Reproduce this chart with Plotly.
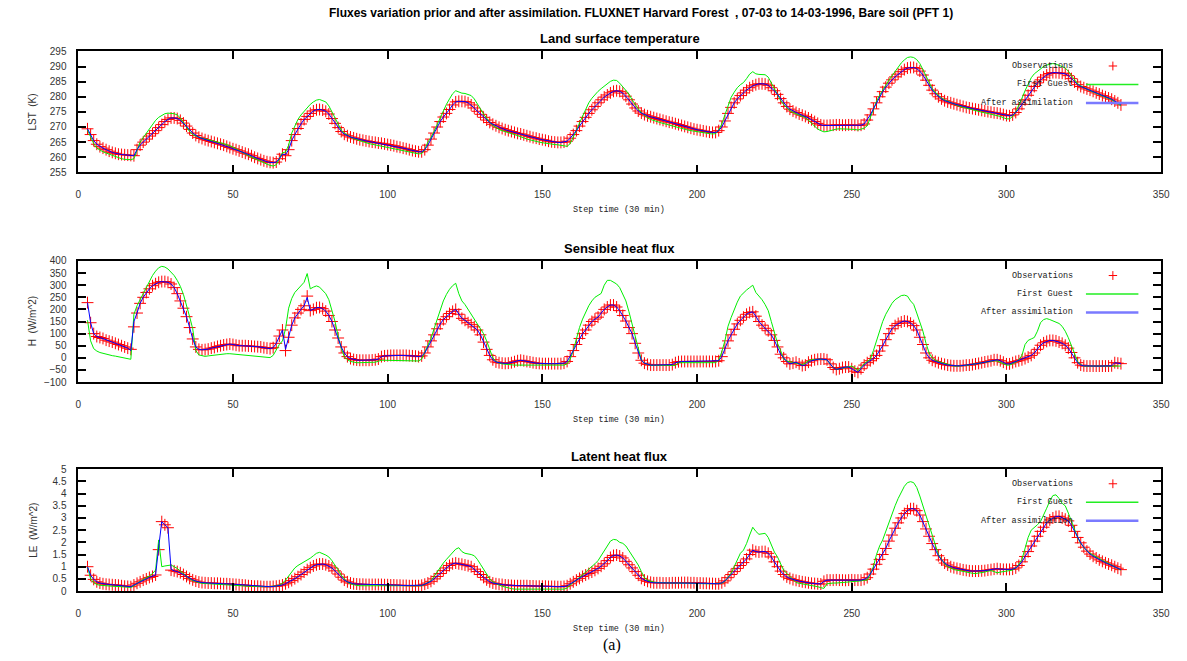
import plotly.graph_objects as go

# ---------------- data (step index starts at 3) ----------------
first_step = 3

lst_obs = [
    269.4, 267.5, 265.5, 264.3, 263.5, 263.0, 262.5, 262.0, 261.6, 261.3,
    261.0, 260.9, 260.8, 260.7, 260.6, 260.5, 262.5, 264.0, 265.0, 266.0,
    267.0, 267.8, 268.8, 269.8, 270.8, 271.8, 272.5, 273.0, 273.0, 272.8,
    272.2, 271.3, 270.3, 269.2, 268.0, 267.2, 266.6, 266.2, 265.8, 265.5,
    265.2, 264.9, 264.6, 264.3, 264.0, 263.6, 263.2, 262.8, 262.5, 262.1,
    261.7, 261.3, 261.0, 260.5, 260.0, 259.6, 259.2, 258.8, 258.5, 258.3,
    258.2, 258.4, 259.5, 261.0, 260.5, 262.5, 265.5, 267.5, 269.5, 271.0,
    272.5, 273.5, 274.5, 275.3, 275.7, 275.8, 275.6, 275.2, 274.3, 272.8,
    271.2, 269.8, 268.5, 267.6, 267.1, 266.7, 266.4, 266.1, 265.8, 265.6,
    265.4, 265.2, 265.0, 264.9, 264.7, 264.6, 264.4, 264.2, 264.0, 263.8,
    263.5, 263.3, 263.0, 262.8, 262.5, 262.2, 262.0, 261.8, 261.8, 262.5,
    264.0, 266.0, 268.0, 270.0, 271.8, 273.3, 274.5, 275.8, 277.3, 278.3,
    278.5, 278.5, 278.4, 278.0, 277.3, 276.3, 275.2, 274.2, 273.2, 272.3,
    271.5, 270.9, 270.4, 269.9, 269.5, 269.1, 268.8, 268.5, 268.2, 267.9,
    267.7, 267.4, 267.1, 266.8, 266.5, 266.3, 266.0, 265.8, 265.6, 265.3,
    265.1, 265.0, 264.9, 264.9, 265.0, 265.3, 266.3, 267.5, 268.8, 270.3,
    271.8, 273.2, 274.5, 275.7, 276.8, 278.0, 279.0, 279.9, 280.6, 281.3,
    281.8, 282.0, 281.8, 281.2, 280.2, 279.0, 277.6, 276.3, 275.3, 274.6,
    274.1, 273.7, 273.4, 273.1, 272.8, 272.5, 272.2, 271.9, 271.6, 271.4,
    271.1, 270.8, 270.5, 270.2, 269.9, 269.6, 269.3, 269.1, 268.9, 268.7,
    268.5, 268.3, 268.2, 268.2, 268.8, 270.0, 272.0, 274.5, 276.5, 278.0,
    279.3, 280.4, 281.3, 282.2, 283.0, 283.6, 284.0, 284.3, 284.3, 284.2,
    283.8, 283.0, 282.0, 280.8, 279.4, 278.0, 276.8, 275.9, 275.3, 274.8,
    274.3, 273.9, 273.5, 273.0, 272.4, 271.8, 271.2, 270.7, 270.5, 270.5,
    270.6, 270.6, 270.7, 270.7, 270.6, 270.6, 270.7, 270.7, 270.6, 270.5,
    270.6, 271.0, 272.3, 274.0, 276.0, 278.0, 280.0, 281.7, 283.2, 284.5,
    285.6, 286.6, 287.5, 288.3, 289.0, 289.5, 289.7, 289.7, 289.3, 288.5,
    287.2, 285.5, 283.8, 282.2, 281.0, 280.0, 279.3, 278.7, 278.3, 278.0,
    277.7, 277.4, 277.1, 276.8, 276.5, 276.3, 276.1, 275.9, 275.7, 275.5,
    275.3, 275.1, 274.9, 274.7, 274.6, 274.4, 274.1, 273.8, 273.7, 274.0,
    274.8, 276.0, 277.5, 279.0, 280.5, 282.0, 283.4, 284.6, 285.6, 286.5,
    287.2, 287.7, 288.0, 288.0, 287.9, 287.8, 287.6, 287.0, 286.0, 284.9,
    284.0, 283.4, 283.0, 282.6, 282.2, 281.8, 281.3, 280.9, 280.4, 280.0,
    279.6, 279.2, 278.6, 278.0, 277.3,
]

lst_first_guess = [
    269.0, 266.5, 264.5, 263.0, 262.3, 261.8, 261.4, 261.0, 260.6, 260.2,
    259.8, 259.5, 259.3, 259.2, 259.2, 259.5, 262.0, 265.0, 266.5, 268.0,
    269.5, 271.0, 272.2, 273.2, 273.9, 274.4, 274.6, 274.6, 274.4, 274.0,
    273.0, 271.5, 270.0, 268.5, 267.5, 267.0, 266.6, 266.3, 266.0, 265.7,
    265.5, 265.2, 265.0, 264.8, 264.5, 264.2, 263.8, 263.3, 262.8, 262.3,
    261.7, 261.1, 260.5, 260.0, 259.5, 259.0, 258.5, 258.1, 257.7, 257.3,
    257.1, 257.5, 259.5, 261.5, 261.7, 264.0, 268.0, 270.5, 272.5, 274.0,
    275.3, 276.5, 277.5, 278.3, 278.9, 279.1, 278.8, 278.3, 277.0, 275.0,
    272.5, 270.5, 269.0, 268.0, 267.3, 266.7, 266.2, 265.8, 265.4, 265.1,
    264.8, 264.5, 264.3, 264.1, 263.9, 263.7, 263.5, 263.3, 263.1, 262.9,
    262.6, 262.4, 262.2, 262.0, 261.8, 261.5, 261.3, 261.1, 261.2, 262.5,
    265.0, 266.5, 268.5, 270.8, 273.0, 275.5, 277.5, 279.3, 281.0, 282.0,
    281.5, 281.2, 281.1, 280.8, 280.4, 279.3, 277.8, 276.0, 274.3, 272.8,
    271.5, 270.5, 269.8, 269.2, 268.8, 268.4, 268.1, 267.8, 267.5, 267.2,
    266.8, 266.4, 266.0, 265.7, 265.5, 265.2, 265.0, 264.8, 264.6, 264.4,
    264.3, 264.2, 264.1, 264.0, 263.8, 263.6, 264.5, 266.5, 268.8, 271.3,
    273.7, 276.0, 278.0, 279.5, 280.8, 281.8, 282.7, 283.6, 284.4, 285.1,
    285.5, 285.4, 284.5, 283.2, 282.0, 280.9, 279.0, 277.3, 276.0, 274.8,
    273.8, 273.0, 272.5, 272.1, 271.8, 271.5, 271.2, 270.9, 270.6, 270.4,
    270.1, 269.8, 269.5, 269.3, 269.0, 268.8, 268.6, 268.4, 268.2, 268.0,
    267.9, 267.8, 267.7, 267.8, 269.0, 271.0, 274.0, 277.0, 279.8, 281.5,
    283.0, 284.0, 284.7, 286.0, 287.5, 288.3, 287.6, 287.4, 287.3, 287.3,
    286.5, 284.5, 282.5, 280.5, 278.8, 277.4, 276.3, 275.4, 274.8, 274.3,
    273.8, 273.5, 273.2, 272.2, 271.2, 270.2, 269.3, 268.8, 268.4, 268.5,
    268.8, 269.1, 269.3, 269.4, 269.4, 269.3, 269.3, 269.3, 269.2, 269.0,
    269.2, 269.6, 270.4, 273.0, 276.0, 278.5, 280.5, 282.0, 283.8, 285.5,
    287.0, 288.6, 290.0, 291.2, 292.2, 293.0, 293.2, 293.0, 292.3, 291.0,
    289.0, 286.8, 284.5, 282.7, 281.5, 280.4, 279.6, 279.0, 278.5, 278.1,
    277.7, 277.2, 276.8, 276.5, 276.2, 275.9, 275.6, 275.3, 275.1, 274.9,
    274.7, 274.5, 274.3, 274.0, 273.8, 273.5, 273.1, 272.7, 272.7, 273.5,
    275.0, 277.0, 279.5, 282.0, 284.3, 286.3, 287.6, 288.5, 289.3, 290.0,
    290.5, 290.8, 291.0, 290.8, 290.5, 290.0, 289.5, 288.5, 287.0, 285.5,
    284.3, 283.6, 283.0, 282.5, 282.0, 281.6, 281.2, 280.8, 280.4, 280.0,
    279.5, 279.0, 278.3, 277.6, 277.0,
]

lst_after = [
    269.4, 267.5, 265.5, 264.3, 263.5, 263.0, 262.5, 262.0, 261.6, 261.3,
    261.0, 260.9, 260.8, 260.7, 260.6, 260.5, 262.5, 264.0, 265.0, 266.0,
    267.0, 267.8, 268.8, 269.8, 270.8, 271.8, 272.5, 273.0, 273.0, 272.8,
    272.2, 271.3, 270.3, 269.2, 268.0, 267.2, 266.6, 266.2, 265.8, 265.5,
    265.2, 264.9, 264.6, 264.3, 264.0, 263.6, 263.2, 262.8, 262.5, 262.1,
    261.7, 261.3, 261.0, 260.5, 260.0, 259.6, 259.2, 258.8, 258.5, 258.3,
    258.2, 258.4, 259.5, 261.0, 260.8, 262.5, 265.5, 267.5, 269.5, 271.0,
    272.5, 273.5, 274.5, 275.3, 275.7, 275.8, 275.6, 275.2, 274.3, 272.8,
    271.2, 269.8, 268.5, 267.6, 267.1, 266.7, 266.4, 266.1, 265.8, 265.6,
    265.4, 265.2, 265.0, 264.9, 264.7, 264.6, 264.4, 264.2, 264.0, 263.8,
    263.5, 263.3, 263.0, 262.8, 262.5, 262.2, 262.0, 261.8, 261.8, 262.5,
    264.0, 266.0, 268.0, 270.0, 271.8, 273.3, 274.5, 275.8, 277.3, 278.3,
    278.5, 278.5, 278.4, 278.0, 277.3, 276.3, 275.2, 274.2, 273.2, 272.3,
    271.5, 270.9, 270.4, 269.9, 269.5, 269.1, 268.8, 268.5, 268.2, 267.9,
    267.7, 267.4, 267.1, 266.8, 266.5, 266.3, 266.0, 265.8, 265.6, 265.3,
    265.1, 265.0, 264.9, 264.9, 265.0, 265.3, 266.3, 267.5, 268.8, 270.3,
    271.8, 273.2, 274.5, 275.7, 276.8, 278.0, 279.0, 279.9, 280.6, 281.3,
    281.8, 282.0, 281.8, 281.2, 280.2, 279.0, 277.6, 276.3, 275.3, 274.6,
    274.1, 273.7, 273.4, 273.1, 272.8, 272.5, 272.2, 271.9, 271.6, 271.4,
    271.1, 270.8, 270.5, 270.2, 269.9, 269.6, 269.3, 269.1, 268.9, 268.7,
    268.5, 268.3, 268.2, 268.2, 268.8, 270.0, 272.0, 274.5, 276.5, 278.0,
    279.3, 280.4, 281.3, 282.2, 283.0, 283.6, 284.0, 284.3, 284.3, 284.2,
    283.8, 283.0, 282.0, 280.8, 279.4, 278.0, 276.8, 275.9, 275.3, 274.8,
    274.3, 273.9, 273.5, 273.0, 272.4, 271.8, 271.2, 270.7, 270.5, 270.5,
    270.6, 270.6, 270.7, 270.7, 270.6, 270.6, 270.7, 270.7, 270.6, 270.5,
    270.6, 271.0, 272.3, 274.0, 276.0, 278.0, 280.0, 281.7, 283.2, 284.5,
    285.6, 286.6, 287.5, 288.3, 289.0, 289.5, 289.7, 289.7, 289.3, 288.5,
    287.2, 285.5, 283.8, 282.2, 281.0, 280.0, 279.3, 278.7, 278.3, 278.0,
    277.7, 277.4, 277.1, 276.8, 276.5, 276.3, 276.1, 275.9, 275.7, 275.5,
    275.3, 275.1, 274.9, 274.7, 274.6, 274.4, 274.1, 273.8, 273.7, 274.0,
    274.8, 276.0, 277.5, 279.0, 280.5, 282.0, 283.4, 284.6, 285.6, 286.5,
    287.2, 287.7, 288.0, 288.0, 287.9, 287.8, 287.6, 287.0, 286.0, 284.9,
    284.0, 283.4, 283.0, 282.6, 282.2, 281.8, 281.3, 280.9, 280.4, 280.0,
    279.6, 279.2, 278.6, 278.0, 277.3,
]

h_obs = [
    228, 145, 100, 88, 84, 80, 73, 69, 65, 60,
    55, 50, 45, 40, 35, 128, 185, 225, 250, 270,
    285, 298, 306, 312, 315, 315, 312, 305, 290, 265,
    235, 205, 170, 125, 78, 45, 35, 33, 34, 36,
    40, 43, 47, 50, 53, 55, 57, 55, 52, 50,
    50, 50, 49, 48, 47, 46, 45, 42, 40, 38,
    42, 60, 90, 115, 30, 85, 135, 165, 185, 200,
    215, 255, 195, 200, 207, 208, 203, 193, 175, 150,
    115, 82, 45, 20, 5, -3, -7, -9, -10, -10,
    -10, -10, -9, -8, -5, 5, 8, 9, 10, 10,
    10, 10, 10, 10, 9, 8, 7, 5, 8, 20,
    45, 70, 95, 120, 140, 158, 170, 183, 192, 200,
    180, 163, 155, 145, 137, 128, 115, 95, 65, 35,
    10, -8, -17, -20, -22, -23, -22, -20, -16, -12,
    -10, -12, -15, -17, -20, -22, -23, -24, -24, -24,
    -24, -24, -24, -24, -22, -15, 5, 30, 55, 80,
    100, 115, 135, 150, 160, 168, 185, 200, 210, 218,
    218, 210, 195, 175, 152, 125, 100, 60, 20, -10,
    -22, -27, -30, -30, -30, -30, -30, -30, -30, -28,
    -20, -16, -15, -15, -15, -15, -15, -15, -15, -15,
    -15, -15, -15, -15, -12, 5, 40, 70, 95, 118,
    140, 155, 168, 180, 187, 190, 172, 150, 135, 122,
    112, 95, 72, 45, 15, 0, -15, -25, -22, -18,
    -25, -32, -30, -18, -12, -8, -6, -5, -5, -8,
    -25, -40, -48, -45, -40, -38, -38, -45, -55, -60,
    -45, -30, -20, -12, -3, 10, 28, 50, 75, 100,
    120, 133, 142, 148, 152, 150, 143, 133, 115, 85,
    55, 20, 0, -10, -15, -20, -24, -27, -30, -32,
    -33, -33, -33, -32, -30, -30, -28, -25, -23, -20,
    -17, -15, -12, -8, -8, -12, -18, -25, -25, -20,
    -15, -12, -8, -3, 3, 10, 20, 35, 52, 62,
    68, 72, 72, 70, 65, 60, 52, 40, 22, 0,
    -20, -30, -33, -34, -34, -34, -34, -34, -34, -34,
    -34, -33, -20, -22, -24,
]

h_first_guess = [
    155, 70, 38, 28, 22, 18, 15, 12, 9, 7,
    5, 3, 1, -2, -6, 180, 215, 240, 265, 290,
    315, 340, 358, 372, 378, 375, 367, 355, 340, 320,
    295, 262, 220, 170, 120, 30, 12, 8, 6, 8,
    10, 12, 14, 15, 16, 17, 17, 16, 13, 11,
    10, 9, 8, 8, 7, 6, 5, 4, 2, 1,
    10, 35, 55, 70, 120, 205, 245, 270, 285, 300,
    312, 348, 285, 292, 297, 292, 280, 265, 240, 195,
    150, 90, 40, 5, -8, -15, -18, -20, -20, -20,
    -20, -20, -20, -18, -14, -10, -10, -10, -10, -10,
    -10, -10, -10, -10, -10, -10, -11, -13, -5, 25,
    55, 80, 120, 160, 200, 235, 262, 283, 298, 308,
    265, 235, 220, 200, 180, 165, 145, 120, 100, 70,
    35, 0, -15, -22, -25, -27, -29, -30, -30, -30,
    -30, -30, -30, -30, -30, -30, -30, -30, -30, -30,
    -30, -30, -30, -30, -30, -25, -5, 30, 80, 125,
    160, 190, 215, 235, 250, 258, 266, 300, 320, 320,
    312, 305, 290, 265, 235, 190, 140, 90, 35, -10,
    -22, -28, -31, -31, -31, -31, -31, -31, -31, -31,
    -31, -20, -20, -20, -20, -20, -20, -20, -20, -20,
    -20, -20, -20, -20, -10, 25, 70, 130, 166, 200,
    230, 255, 269, 280, 290, 300, 270, 255, 240, 220,
    195, 150, 100, 60, 30, -5, -13, -16, -18, -20,
    -25, -28, -22, -12, -8, -6, -6, -6, -6, -8,
    -25, -40, -48, -45, -40, -37, -35, -34, -42, -52,
    -40, -25, -15, -6, 30, 69, 115, 150, 180, 205,
    225, 240, 250, 257, 259, 255, 235, 221, 185, 150,
    110, 60, 20, 0, -10, -16, -20, -24, -28, -32,
    -34, -34, -34, -33, -31, -29, -27, -25, -23, -20,
    -17, -15, -13, -12, -13, -18, -25, -30, -30, -25,
    -18, -8, 10, 55, 72, 78, 84, 110, 145, 158,
    162, 158, 152, 148, 142, 130, 110, 83, 50, 15,
    -15, -28, -34, -34, -34, -34, -34, -34, -34, -34,
    -34, -34, -34, -34, -34,
]

h_after = [
    228, 145, 100, 88, 84, 80, 73, 69, 65, 60,
    55, 50, 45, 40, 30, 150, 185, 225, 250, 270,
    285, 298, 306, 312, 315, 315, 312, 305, 290, 265,
    235, 205, 170, 125, 78, 45, 35, 33, 34, 36,
    40, 43, 47, 50, 53, 55, 57, 55, 52, 50,
    50, 50, 49, 48, 47, 46, 45, 42, 40, 38,
    42, 60, 90, 115, 35, 85, 135, 165, 185, 200,
    215, 250, 195, 200, 207, 208, 203, 193, 175, 150,
    115, 82, 45, 20, 5, -3, -7, -9, -10, -10,
    -10, -10, -9, -8, -5, 5, 8, 9, 10, 10,
    10, 10, 10, 10, 9, 8, 7, 5, 8, 20,
    45, 70, 95, 120, 140, 158, 170, 183, 192, 200,
    180, 163, 155, 145, 137, 128, 115, 95, 65, 35,
    10, -8, -17, -20, -22, -23, -22, -20, -16, -12,
    -10, -12, -15, -17, -20, -22, -23, -24, -24, -24,
    -24, -24, -24, -24, -22, -15, 5, 30, 55, 80,
    100, 115, 135, 150, 160, 168, 185, 200, 210, 218,
    218, 210, 195, 175, 152, 125, 100, 60, 20, -10,
    -22, -27, -30, -30, -30, -30, -30, -30, -30, -28,
    -20, -16, -15, -15, -15, -15, -15, -15, -15, -15,
    -15, -15, -15, -15, -12, 5, 40, 70, 95, 118,
    140, 155, 168, 180, 187, 190, 172, 150, 135, 122,
    112, 95, 72, 45, 15, 0, -15, -25, -22, -18,
    -25, -32, -30, -18, -12, -8, -6, -5, -5, -8,
    -25, -40, -48, -45, -40, -38, -38, -45, -55, -60,
    -45, -30, -20, -12, -3, 10, 28, 50, 75, 100,
    120, 133, 142, 148, 152, 150, 143, 133, 115, 85,
    55, 20, 0, -10, -15, -20, -24, -27, -30, -32,
    -33, -33, -33, -32, -30, -30, -28, -25, -23, -20,
    -17, -15, -12, -8, -8, -12, -18, -25, -25, -20,
    -15, -12, -8, -3, 3, 10, 20, 35, 52, 62,
    68, 72, 72, 70, 65, 60, 52, 40, 22, 0,
    -20, -30, -33, -34, -34, -34, -34, -34, -34, -34,
    -34, -33, -20, -22, -24,
]

le_obs = [
    1.00, 0.65, 0.48, 0.38, 0.33, 0.30, 0.28, 0.27, 0.26, 0.25,
    0.24, 0.22, 0.20, 0.19, 0.18, 0.25, 0.32, 0.38, 0.45, 0.50,
    0.56, 0.60, 0.66, 1.70, 2.85, 2.72, 2.60, 0.86, 0.83, 0.80,
    0.75, 0.68, 0.60, 0.52, 0.46, 0.41, 0.37, 0.35, 0.34, 0.33,
    0.33, 0.32, 0.32, 0.31, 0.30, 0.30, 0.29, 0.28, 0.27, 0.26,
    0.25, 0.24, 0.22, 0.21, 0.20, 0.20, 0.19, 0.18, 0.18, 0.18,
    0.19, 0.20, 0.22, 0.25, 0.30, 0.36, 0.43, 0.51, 0.59, 0.68,
    0.78, 0.88, 0.96, 1.03, 1.08, 1.11, 1.11, 1.08, 1.03, 0.95,
    0.83, 0.70, 0.57, 0.45, 0.38, 0.33, 0.30, 0.29, 0.28, 0.28,
    0.27, 0.27, 0.27, 0.27, 0.27, 0.27, 0.26, 0.26, 0.25, 0.25,
    0.24, 0.24, 0.23, 0.23, 0.22, 0.22, 0.22, 0.22, 0.24, 0.28,
    0.33, 0.40, 0.50, 0.60, 0.72, 0.84, 0.95, 1.05, 1.12, 1.15,
    1.12, 1.10, 1.07, 1.04, 1.00, 0.90, 0.80, 0.68, 0.56, 0.46,
    0.38, 0.33, 0.30, 0.28, 0.27, 0.25, 0.24, 0.23, 0.22, 0.22,
    0.22, 0.22, 0.22, 0.21, 0.21, 0.20, 0.20, 0.20, 0.20, 0.19,
    0.19, 0.19, 0.18, 0.18, 0.19, 0.22, 0.30, 0.38, 0.45, 0.52,
    0.60, 0.66, 0.72, 0.78, 0.85, 0.93, 1.02, 1.12, 1.25, 1.38,
    1.46, 1.48, 1.44, 1.36, 1.22, 1.08, 0.95, 0.80, 0.65, 0.52,
    0.45, 0.40, 0.36, 0.34, 0.34, 0.34, 0.33, 0.33, 0.33, 0.34,
    0.34, 0.34, 0.35, 0.35, 0.35, 0.34, 0.34, 0.33, 0.33, 0.32,
    0.32, 0.31, 0.31, 0.30, 0.30, 0.34, 0.42, 0.55, 0.68, 0.80,
    0.93, 1.05, 1.17, 1.32, 1.50, 1.68, 1.62, 1.60, 1.62, 1.62,
    1.55, 1.40, 1.20, 1.00, 0.82, 0.68, 0.58, 0.52, 0.47, 0.44,
    0.41, 0.38, 0.36, 0.34, 0.32, 0.31, 0.30, 0.29, 0.40, 0.45,
    0.45, 0.45, 0.46, 0.45, 0.45, 0.44, 0.45, 0.46, 0.45, 0.45,
    0.45, 0.48, 0.55, 0.70, 0.90, 1.10, 1.30, 1.50, 1.75, 2.05,
    2.30, 2.58, 2.80, 3.00, 3.18, 3.30, 3.38, 3.38, 3.30, 3.12,
    2.85, 2.55, 2.25, 1.95, 1.70, 1.45, 1.28, 1.15, 1.07, 1.00,
    0.96, 0.93, 0.90, 0.87, 0.85, 0.83, 0.82, 0.82, 0.82, 0.83,
    0.84, 0.86, 0.88, 0.90, 0.92, 0.90, 0.89, 0.89, 0.89, 0.90,
    0.95, 1.05, 1.20, 1.42, 1.62, 1.85, 2.05, 2.25, 2.45, 2.62,
    2.80, 2.92, 3.00, 3.06, 3.07, 3.00, 2.95, 2.88, 2.70, 2.45,
    2.20, 1.98, 1.80, 1.64, 1.52, 1.43, 1.36, 1.28, 1.22, 1.16,
    1.11, 1.06, 1.00, 0.94, 0.88,
]

le_first_guess = [
    1.00, 0.50, 0.35, 0.27, 0.24, 0.22, 0.21, 0.21, 0.20, 0.20,
    0.19, 0.18, 0.17, 0.16, 0.15, 0.22, 0.32, 0.40, 0.47, 0.54,
    0.62, 0.72, 0.86, 2.10, 1.00, 1.03, 1.06, 1.07, 1.00, 0.93,
    0.82, 0.70, 0.60, 0.50, 0.43, 0.38, 0.35, 0.32, 0.31, 0.30,
    0.29, 0.28, 0.27, 0.27, 0.26, 0.26, 0.25, 0.25, 0.24, 0.23,
    0.22, 0.21, 0.20, 0.20, 0.19, 0.18, 0.18, 0.18, 0.18, 0.18,
    0.19, 0.21, 0.25, 0.32, 0.45, 0.62, 0.80, 0.95, 1.05, 1.12,
    1.18, 1.25, 1.35, 1.45, 1.55, 1.59, 1.55, 1.48, 1.40, 1.25,
    1.05, 0.88, 0.65, 0.48, 0.36, 0.30, 0.26, 0.23, 0.22, 0.22,
    0.22, 0.22, 0.21, 0.21, 0.21, 0.21, 0.21, 0.21, 0.21, 0.21,
    0.21, 0.21, 0.21, 0.21, 0.21, 0.21, 0.21, 0.21, 0.22, 0.28,
    0.34, 0.42, 0.60, 0.80, 1.00, 1.15, 1.30, 1.45, 1.60, 1.72,
    1.78, 1.62, 1.55, 1.53, 1.50, 1.45, 1.30, 1.10, 0.90, 0.68,
    0.50, 0.38, 0.30, 0.25, 0.20, 0.16, 0.13, 0.10, 0.08, 0.08,
    0.08, 0.08, 0.07, 0.07, 0.07, 0.07, 0.07, 0.07, 0.07, 0.07,
    0.07, 0.07, 0.07, 0.07, 0.08, 0.12, 0.25, 0.36, 0.45, 0.55,
    0.65, 0.78, 0.90, 1.00, 1.12, 1.25, 1.45, 1.68, 1.90, 2.05,
    2.12, 2.10, 2.00, 1.96, 1.85, 1.65, 1.45, 1.25, 1.07, 0.80,
    0.55, 0.45, 0.40, 0.37, 0.35, 0.34, 0.34, 0.33, 0.33, 0.33,
    0.33, 0.32, 0.32, 0.32, 0.32, 0.32, 0.31, 0.31, 0.31, 0.31,
    0.30, 0.30, 0.30, 0.29, 0.29, 0.32, 0.40, 0.55, 0.73, 1.00,
    1.30, 1.55, 1.68, 1.95, 2.30, 2.62, 2.45, 2.33, 2.35, 2.37,
    2.20, 1.90, 1.60, 1.40, 1.10, 0.85, 0.73, 0.60, 0.45, 0.35,
    0.32, 0.30, 0.28, 0.26, 0.25, 0.23, 0.18, 0.14, 0.11, 0.30,
    0.33, 0.33, 0.33, 0.34, 0.34, 0.34, 0.35, 0.36, 0.38, 0.40,
    0.42, 0.45, 0.45, 0.70, 1.00, 1.50, 1.85, 2.10, 2.45, 2.85,
    3.20, 3.50, 3.80, 4.05, 4.30, 4.45, 4.49, 4.45, 4.25, 3.90,
    3.50, 3.05, 2.60, 2.20, 1.85, 1.50, 1.30, 1.12, 1.00, 0.93,
    0.88, 0.86, 0.83, 0.80, 0.77, 0.75, 0.73, 0.72, 0.73, 0.75,
    0.78, 0.82, 0.84, 0.80, 0.75, 0.78, 0.80, 0.82, 0.84, 0.86,
    0.95, 1.10, 1.30, 1.75, 2.20, 2.50, 2.60, 2.72, 2.85, 3.10,
    3.40, 3.70, 3.92, 3.95, 3.80, 3.60, 3.50, 3.20, 2.85, 2.50,
    2.20, 1.95, 1.80, 1.65, 1.55, 1.47, 1.41, 1.33, 1.26, 1.20,
    1.14, 1.07, 1.00, 0.93, 0.86,
]

le_after = [
    1.00, 0.65, 0.48, 0.38, 0.33, 0.30, 0.28, 0.27, 0.26, 0.25,
    0.24, 0.22, 0.20, 0.19, 0.18, 0.25, 0.32, 0.38, 0.45, 0.50,
    0.56, 0.60, 0.66, 1.80, 2.85, 2.72, 2.60, 0.90, 0.83, 0.80,
    0.75, 0.68, 0.60, 0.52, 0.46, 0.41, 0.37, 0.35, 0.34, 0.33,
    0.33, 0.32, 0.32, 0.31, 0.30, 0.30, 0.29, 0.28, 0.27, 0.26,
    0.25, 0.24, 0.22, 0.21, 0.20, 0.20, 0.19, 0.18, 0.18, 0.18,
    0.19, 0.20, 0.22, 0.25, 0.30, 0.36, 0.43, 0.51, 0.59, 0.68,
    0.78, 0.88, 0.96, 1.03, 1.08, 1.11, 1.11, 1.08, 1.03, 0.95,
    0.83, 0.70, 0.57, 0.45, 0.38, 0.33, 0.30, 0.29, 0.28, 0.28,
    0.27, 0.27, 0.27, 0.27, 0.27, 0.27, 0.26, 0.26, 0.25, 0.25,
    0.24, 0.24, 0.23, 0.23, 0.22, 0.22, 0.22, 0.22, 0.24, 0.28,
    0.33, 0.40, 0.50, 0.60, 0.72, 0.84, 0.95, 1.05, 1.12, 1.15,
    1.12, 1.10, 1.07, 1.04, 1.00, 0.90, 0.80, 0.68, 0.56, 0.46,
    0.38, 0.33, 0.30, 0.28, 0.27, 0.25, 0.24, 0.23, 0.22, 0.22,
    0.22, 0.22, 0.22, 0.21, 0.21, 0.20, 0.20, 0.20, 0.20, 0.19,
    0.19, 0.19, 0.18, 0.18, 0.19, 0.22, 0.30, 0.38, 0.45, 0.52,
    0.60, 0.66, 0.72, 0.78, 0.85, 0.93, 1.02, 1.12, 1.25, 1.38,
    1.46, 1.48, 1.44, 1.36, 1.22, 1.08, 0.95, 0.80, 0.65, 0.52,
    0.45, 0.40, 0.36, 0.34, 0.34, 0.34, 0.33, 0.33, 0.33, 0.34,
    0.34, 0.34, 0.35, 0.35, 0.35, 0.34, 0.34, 0.33, 0.33, 0.32,
    0.32, 0.31, 0.31, 0.30, 0.30, 0.34, 0.42, 0.55, 0.68, 0.80,
    0.93, 1.05, 1.17, 1.32, 1.50, 1.68, 1.62, 1.60, 1.62, 1.62,
    1.55, 1.40, 1.20, 1.00, 0.82, 0.68, 0.58, 0.52, 0.47, 0.44,
    0.41, 0.38, 0.36, 0.34, 0.32, 0.31, 0.30, 0.29, 0.40, 0.45,
    0.45, 0.45, 0.46, 0.45, 0.45, 0.44, 0.45, 0.46, 0.45, 0.45,
    0.45, 0.48, 0.55, 0.70, 0.90, 1.10, 1.30, 1.50, 1.75, 2.05,
    2.30, 2.58, 2.80, 3.00, 3.18, 3.30, 3.38, 3.38, 3.30, 3.12,
    2.85, 2.55, 2.25, 1.95, 1.70, 1.45, 1.28, 1.15, 1.07, 1.00,
    0.96, 0.93, 0.90, 0.87, 0.85, 0.83, 0.82, 0.82, 0.82, 0.83,
    0.84, 0.86, 0.88, 0.90, 0.92, 0.90, 0.89, 0.89, 0.89, 0.90,
    0.95, 1.05, 1.20, 1.42, 1.62, 1.85, 2.05, 2.25, 2.45, 2.62,
    2.80, 2.92, 3.00, 3.06, 3.07, 3.00, 2.95, 2.88, 2.70, 2.45,
    2.20, 1.98, 1.80, 1.64, 1.52, 1.43, 1.36, 1.28, 1.22, 1.16,
    1.11, 1.06, 1.00, 0.94, 0.88,
]

panel_titles = ["Land surface temperature", "Sensible heat flux", "Latent heat flux"]
y_titles = ["LST  (K)", "H  (W/m^2)", "LE  (W/m^2)"]
y_ranges = [[255, 295], [-100, 400], [0, 5]]
y_dticks = [5, 50, 0.5]
x_title = "Step time (30 min)"
legend_names = ["Observations", "First Guest", "After assimilation"]
main_title = ("Fluxes variation prior and after assimilation. FLUXNET Harvard Forest  , "
              "07-03 to 14-03-1996, Bare soil (PFT 1)")

# ---------------- layout geometry (pixels) ----------------
W, H = 1187, 661
X0, X1 = 76, 1170
panel_px = [(46.3, 169.4), (259.7, 383.0), (471.8, 595.9)]

def px(x):
    return x / W

def py(y):
    return 1 - y / H

RED = "#ff0000"
GREEN = "#00ee00"
BLUE = "#0000ff"

fig = go.Figure()
series = [
    (lst_obs, lst_first_guess, lst_after),
    (h_obs, h_first_guess, h_after),
    (le_obs, le_first_guess, le_after),
]

tickfont = dict(family="Liberation Sans, Arial, sans-serif", size=10, color="#333333")
monofont = dict(family="Liberation Mono, DejaVu Sans Mono, monospace", size=8.5, color="#222222")

annotations = []
shapes = []

for i, (obs, fg, aft) in enumerate(series):
    sfx = "" if i == 0 else str(i + 1)
    xa, ya = "x" + sfx, "y" + sfx
    xs_o = list(range(first_step, first_step + len(obs)))
    xs_f = list(range(first_step, first_step + len(fg)))
    xs_a = list(range(first_step, first_step + len(aft)))
    fig.add_trace(go.Scatter(
        x=xs_o, y=obs, mode="markers", xaxis=xa, yaxis=ya, showlegend=False,
        marker=dict(symbol="cross-thin-open", size=8.5, color=RED, line=dict(color=RED, width=1)),
        name=legend_names[0]))
    fig.add_trace(go.Scatter(
        x=xs_f, y=fg, mode="lines", xaxis=xa, yaxis=ya, showlegend=False,
        line=dict(color=GREEN, width=1), name=legend_names[1]))
    fig.add_trace(go.Scatter(
        x=xs_a, y=aft, mode="lines", xaxis=xa, yaxis=ya, showlegend=False,
        line=dict(color=BLUE, width=1), name=legend_names[2]))

    top, bot = panel_px[i]
    common = dict(showline=True, linecolor="black", linewidth=1.5, mirror="ticks",
                  ticks="inside", ticklen=8, tickwidth=1.5, tickcolor="black",
                  showgrid=False, zeroline=False, tickfont=tickfont)
    fig.layout["xaxis" + sfx] = dict(
        domain=[px(X0), px(X1)], anchor=ya, range=[0, 350], tick0=0, dtick=50,
        ticklabelstandoff=12, **common)
    fig.layout["yaxis" + sfx] = dict(
        domain=[py(bot), py(top)], anchor=xa, range=y_ranges[i], tick0=y_ranges[i][0],
        dtick=y_dticks[i], ticklabelstandoff=8, **common)

    annotations.append(dict(
        text="<b>%s</b>" % panel_titles[i], x=px(623), y=py(top - 12.8),
        xref="paper", yref="paper", showarrow=False, xanchor="center", yanchor="middle",
        font=dict(family="Liberation Sans, Arial, sans-serif", size=13, color="black")))
    annotations.append(dict(
        text=x_title, x=px(622), y=py(bot + 38.5), xref="paper", yref="paper",
        showarrow=False, xanchor="center", yanchor="middle", font=monofont))
    annotations.append(dict(
        text=y_titles[i], x=px(30), y=py((top + bot) / 2), xref="paper", yref="paper",
        showarrow=False, xanchor="center", yanchor="middle", textangle=-90,
        font=dict(family="Liberation Sans, Arial, sans-serif", size=10, color="#333333")))

    rows = [top + 14.8, top + 33.6, top + 52.4]
    for name, ry in zip(legend_names, rows):
        annotations.append(dict(
            text=name, x=px(1083), y=py(ry), xref="paper", yref="paper", showarrow=False,
            xanchor="right", yanchor="middle", font=monofont))
    shapes.append(dict(type="line", xref="paper", yref="paper",
                       x0=px(1117), x1=px(1125.5), y0=py(rows[0]), y1=py(rows[0]),
                       line=dict(color=RED, width=1)))
    shapes.append(dict(type="line", xref="paper", yref="paper",
                       x0=px(1121.2), x1=px(1121.2), y0=py(rows[0] - 4.5), y1=py(rows[0] + 4.5),
                       line=dict(color=RED, width=1)))
    shapes.append(dict(type="line", xref="paper", yref="paper",
                       x0=px(1094), x1=px(1147), y0=py(rows[1]), y1=py(rows[1]),
                       line=dict(color="#22ee22", width=1.5)))
    shapes.append(dict(type="line", xref="paper", yref="paper",
                       x0=px(1094), x1=px(1147), y0=py(rows[2]), y1=py(rows[2]),
                       line=dict(color="#7a7aff", width=2.5)))

annotations.append(dict(
    text="<b>%s</b>" % main_title, x=px(645), y=py(7.6), xref="paper", yref="paper",
    showarrow=False, xanchor="center", yanchor="middle",
    font=dict(family="Liberation Sans, Arial, sans-serif", size=12, color="black")))
annotations.append(dict(
    text="(a)", x=px(615), y=py(651), xref="paper", yref="paper", showarrow=False,
    xanchor="center", yanchor="middle",
    font=dict(family="Liberation Serif, Times New Roman, serif", size=16, color="black")))

fig.update_layout(
    width=W, height=H, autosize=False,
    margin=dict(l=0, r=0, t=0, b=0, pad=0),
    paper_bgcolor="white", plot_bgcolor="white",
    showlegend=False,
    annotations=annotations, shapes=shapes,
)

fig.write_html(
    "out.html",
    config={"displayModeBar": False},
    post_script="document.body.style.margin='0';document.body.style.padding='0';"
                "document.documentElement.style.overflow='hidden';",
)
